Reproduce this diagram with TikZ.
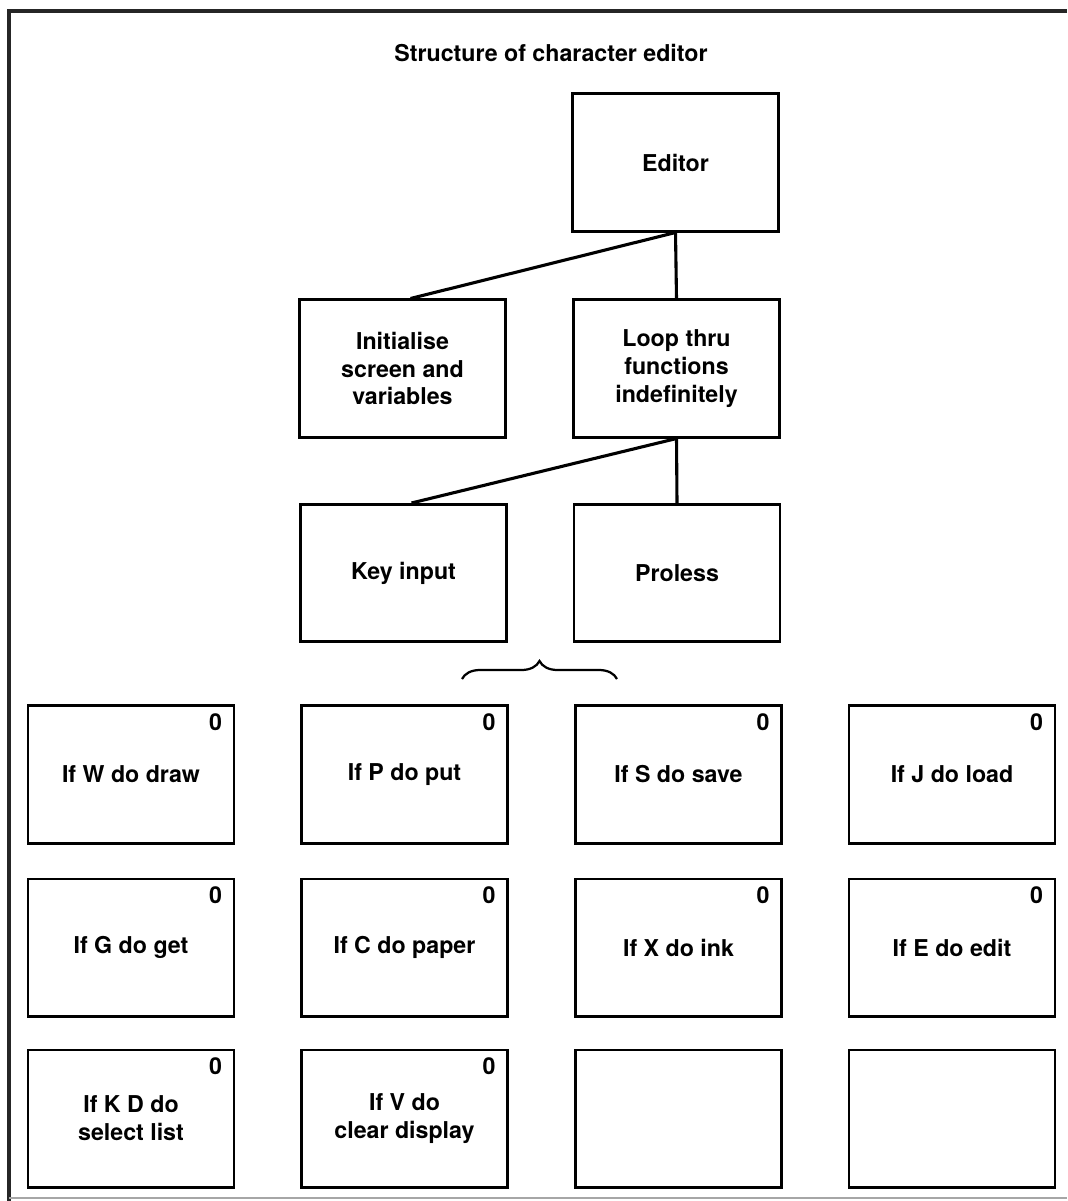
\documentclass[tikz,border=0pt]{standalone}
\usepackage{fontspec}
\setmainfont{TeX Gyre Heros}
\usepackage{tikz}
\usetikzlibrary{decorations.pathreplacing}

\tikzset{
  blk/.style={draw, line width=2pt, minimum width=51.5mm, minimum height=34.3mm,
    align=center, inner sep=1mm, font=\fontsize{16.5}{19.8}\selectfont\bfseries},
  blk0/.style={blk, label={[anchor=north east, inner xsep=3.3mm, inner ysep=2.2mm,
    font=\fontsize{16.5}{19.8}\selectfont\bfseries]north east:0}},
  link/.style={line width=2.2pt}
}

\begin{document}
\begin{tikzpicture}[x=0.25mm, y=-0.25mm]
  \useasboundingbox (0,0) rectangle (1067,1201);
  % frame
  \draw [line width=3pt, black!85] (1067,11) -- (9,11) -- (9,1201);
  \draw [line width=1.2pt, black!35] (9,1198) -- (1067,1198);

  \node [font=\fontsize{16.5}{19.8}\selectfont\bfseries] (title) at (551,53) {Structure of character editor};

  % tree
  \node [blk] (editor) at (675.5,162.5) {Editor};
  \node [blk] (init) at (402.5,368.5) {Initialise\\screen and\\variables};
  \node [blk] (loop) at (676.5,368.5) {Loop thru\\functions\\indefinitely};
  \node [blk] (key) at (403.5,573) {Key input};
  \node [blk] (proless) at (677,573) {Proless};

  \draw [link] (editor.south) -- ([xshift=2mm]init.north);
  \draw [link] (editor.south) -- (loop.north);
  \draw [link] (loop.south) -- ([xshift=2mm]key.north);
  \draw [link] (loop.south) -- (proless.north);

  % brace
  \coordinate (bl) at (462,679);
  \coordinate (br) at (617,679);
  \draw [line width=1.6pt, decorate, decoration={brace, amplitude=4.5mm}] (bl) -- (br);

  % functions
  \node [blk0] (w) at (131,774.5) {If W do draw};
  \node [blk0] (p) at (404.5,774.5) {If P do put};
  \node [blk0] (s) at (678.5,774.5) {If S do save};
  \node [blk0] (j) at (952,774.5) {If J do load};
  \node [blk0] (g) at (131,947.5) {If G do get};
  \node [blk0] (c) at (404.5,947.5) {If C do paper};
  \node [blk0] (x) at (678.5,947.5) {If X do ink};
  \node [blk0] (e) at (952,947.5) {If E do edit};
  \node [blk0] (kd) at (131,1118.5) {If K D do\\select list};
  \node [blk0] (v) at (404.5,1118.5) {If V do\\clear display};
  \node [blk] (spare1) at (678.5,1118.5) {};
  \node [blk] (spare2) at (952,1118.5) {};
\end{tikzpicture}
\end{document}
